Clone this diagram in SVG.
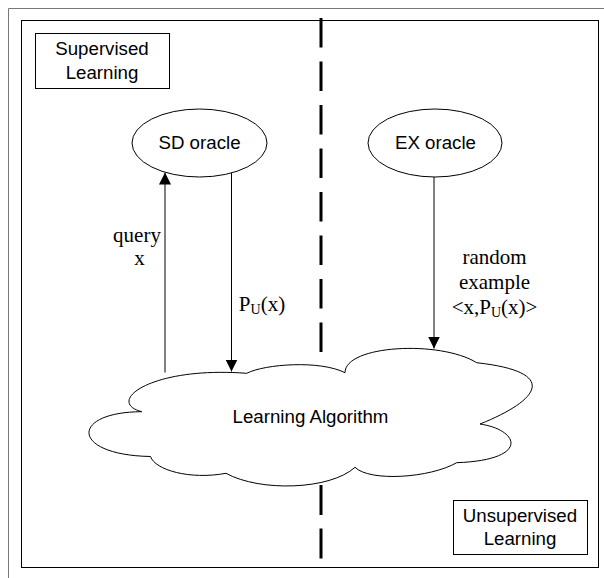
<svg xmlns="http://www.w3.org/2000/svg" width="604" height="578" viewBox="0 0 604 578">
<defs>
<style>
.sans{font-family:"Liberation Sans",Arial,sans-serif;font-size:18.7px;fill:#000;text-anchor:middle}
.serif{font-family:"Liberation Serif","Times New Roman",serif;font-size:21px;fill:#000;text-anchor:middle}
.sub{font-size:14px}
.box{fill:#fff;stroke:#000;stroke-width:1}
.edge{stroke:#000;stroke-width:1;fill:none}
.div{stroke:#000;stroke-width:3;fill:none}
</style>
<marker id="ah" viewBox="0 0 12 12" refX="12" refY="6" markerWidth="12" markerHeight="12" markerUnits="userSpaceOnUse" orient="auto">
<path d="M0,0 L12,6 L0,12 Z" fill="#000"/>
</marker>
</defs>
<rect width="604" height="578" fill="#fff"/>
<g id="page-border">
<path d="M8.5,578 V8.5 H604" fill="none" stroke="#777" stroke-width="1"/>
<rect x="21.5" y="20.5" width="577" height="547" fill="none" stroke="#000" stroke-width="1"/>
</g>
<g id="divider">
<line class="div" x1="321" y1="18" x2="321" y2="355" stroke-dasharray="29.5 14"/>
<line class="div" x1="321" y1="485" x2="321" y2="559" stroke-dasharray="30 13.5"/>
</g>
<g id="connectors">
<line class="edge" x1="165" y1="372.5" x2="165" y2="172.5" marker-end="url(#ah)"/>
<line class="edge" x1="231.5" y1="173" x2="231.5" y2="371.5" marker-end="url(#ah)"/>
<line class="edge" x1="434" y1="177" x2="434" y2="348.5" marker-end="url(#ah)"/>
<text class="serif" x="137" y="242">query</text>
<text class="serif" x="139.5" y="265">x</text>
<text class="serif" x="262" y="310.5" text-anchor="middle">P<tspan class="sub" dy="3">U</tspan><tspan dy="-3">(x)</tspan></text>
<text class="serif" x="494.5" y="264">random</text>
<text class="serif" x="494.5" y="289">example</text>
<text class="serif" x="494.5" y="314">&lt;x,P<tspan class="sub" dy="3">U</tspan><tspan dy="-3">(x)&gt;</tspan></text>
</g>
<g id="supervised-label">
<rect class="box" x="35.5" y="33.5" width="134" height="55"/>
<text class="sans" x="102" y="55">Supervised</text>
<text class="sans" x="102" y="79">Learning</text>
</g>
<g id="unsupervised-label">
<rect class="box" x="453.5" y="500.5" width="134" height="54"/>
<text class="sans" x="520" y="522">Unsupervised</text>
<text class="sans" x="520" y="545">Learning</text>
</g>
<g id="sd-oracle">
<ellipse class="box" cx="199.5" cy="143" rx="67.5" ry="34"/>
<text class="sans" x="199.5" y="149">SD oracle</text>
</g>
<g id="ex-oracle">
<ellipse class="box" cx="435" cy="143" rx="67" ry="34"/>
<text class="sans" x="435.5" y="149">EX oracle</text>
</g>
<g id="learning-algorithm">
<path class="box" d="M141.7,411.7 C105,402 150,366 246.7,373.3 C265,364 320,360 345,372.7 C345,345 440,340 476.7,362.7 C560,372 540,400 480,424 C520,430 530,460 456.7,462.7 C430,478 370,482 355,467.3 C330,490 260,492 226,473.3 C190,480 155,470 150.5,456.5 C70,455 70,412 141.7,411.7 Z"/>
<text class="sans" x="310.5" y="423">Learning Algorithm</text>
</g>
</svg>
